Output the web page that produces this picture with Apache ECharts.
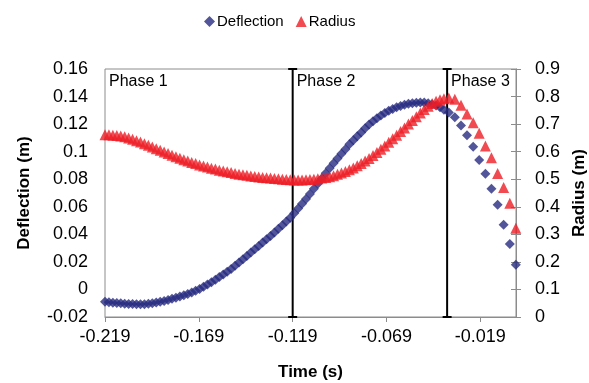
<!DOCTYPE html>
<html><head><meta charset="utf-8">
<script src="https://cdn.jsdelivr.net/npm/echarts@6/dist/echarts.min.js"></script>
<style>html,body{margin:0;padding:0;background:#fff}#c{width:589px;height:383px}</style>
</head><body><div id="c"></div>
<script>
// Time (s)
const time = [
-0.219,-0.2169,-0.2148,-0.2127,-0.2106,-0.2085,-0.2064,-0.2043,-0.2022,-0.2001,
-0.198,-0.1959,-0.1938,-0.1917,-0.1896,-0.1875,-0.1854,-0.1833,-0.1812,-0.1791,
-0.177,-0.1749,-0.1728,-0.1707,-0.1686,-0.1665,-0.1644,-0.1623,-0.1602,-0.1581,
-0.156,-0.1539,-0.1518,-0.1497,-0.1476,-0.1455,-0.1434,-0.1413,-0.1392,-0.1371,
-0.135,-0.1329,-0.1308,-0.1287,-0.1266,-0.1245,-0.1224,-0.1203,-0.1182,-0.1161,
-0.114,-0.1119,-0.1098,-0.1077,-0.1056,-0.1035,-0.1014,-0.0993,-0.0972,-0.0951,
-0.093,-0.0909,-0.0888,-0.0867,-0.0846,-0.0825,-0.0804,-0.0783,-0.0762,-0.0741,
-0.072,-0.0699,-0.0678,-0.0657,-0.0636,-0.0615,-0.0594,-0.0573,-0.0552,-0.0531,
-0.051,-0.0489,-0.0468,-0.0447,-0.0426,-0.0405,-0.0384,
-0.0358,-0.0326,-0.0293,-0.0261,-0.0228,-0.0196,-0.0163,-0.0131,-0.0098,-0.0066,-0.0033,-0.0001
];
// Deflection (m)
const deflection = [
-0.0090,-0.0093,-0.0096,-0.0099,-0.0101,-0.0103,-0.0105,-0.0106,-0.0107,-0.0108,
-0.0107,-0.0104,-0.0100,-0.0095,-0.0090,-0.0083,-0.0076,-0.0068,-0.0060,-0.0051,
-0.0042,-0.0033,-0.0022,-0.0009,0.0004,0.0019,0.0035,0.0052,0.0071,0.0090,
0.0109,0.0128,0.0149,0.0172,0.0195,0.0219,0.0243,0.0268,0.0292,0.0316,
0.0340,0.0364,0.0388,0.0414,0.0440,0.0466,0.0493,0.0520,0.0553,0.0587,
0.0622,0.0656,0.0692,0.0730,0.0768,0.0806,0.0843,0.0880,0.0916,0.0950,
0.0985,0.1018,0.1053,0.1083,0.1112,0.1140,0.1170,0.1197,0.1220,0.1242,
0.1262,0.1280,0.1297,0.1310,0.1322,0.1332,0.1340,0.1347,0.1352,0.1355,
0.1357,0.1356,0.1352,0.1345,0.1335,0.1322,0.1305,
0.1285,0.1250,0.1190,0.1120,0.1035,0.0940,0.0840,0.0730,0.0615,0.0470,0.0330,0.0180
];
// Radius (m)
const radius = [
0.661,0.661,0.660,0.659,0.657,0.654,0.650,0.645,0.640,0.635,
0.629,0.623,0.617,0.611,0.605,0.599,0.593,0.587,0.582,0.576,
0.571,0.566,0.561,0.557,0.552,0.548,0.544,0.540,0.537,0.533,
0.530,0.527,0.524,0.521,0.518,0.516,0.514,0.512,0.510,0.508,
0.506,0.505,0.504,0.503,0.502,0.500,0.499,0.498,0.497,0.497,
0.497,0.498,0.499,0.500,0.502,0.504,0.506,0.509,0.513,0.518,
0.523,0.528,0.534,0.541,0.549,0.557,0.566,0.575,0.586,0.597,
0.609,0.621,0.634,0.647,0.660,0.673,0.686,0.700,0.713,0.727,
0.740,0.753,0.765,0.775,0.783,0.788,0.792,
0.795,0.790,0.768,0.737,0.705,0.667,0.621,0.578,0.521,0.470,0.413,0.322
];
const xTickLabels = [-0.219, -0.169, -0.119, -0.069, -0.019];
const phaseStarts = [-0.219, -0.119, -0.0367];
const phaseNames = ['Phase 1', 'Phase 2', 'Phase 3'];
const phaseLines = [-0.119, -0.0367];
const deflRange = [-0.02, 0.16];

const FONT = 'Liberation Sans, Arial, sans-serif';
const AXIS = '#8c8c8c';
const chart = echarts.init(document.getElementById('c'), null, {renderer: 'canvas'});

const deflData = time.map((t, i) => [t, deflection[i]]);
const radData = time.map((t, i) => [t, radius[i]]);

const phaseSeries = phaseLines.map((v, i) => ({
  name: 'phase' + i, type: 'line', yAxisIndex: 0,
  data: [[v, deflRange[0]], [v, deflRange[1]]],
  symbol: 'rect', symbolSize: [9, 2], showSymbol: true,
  itemStyle: {color: '#000'},
  lineStyle: {color: '#000', width: 2},
  silent: true, z: 1
}));

const option = {
  animation: false,
  backgroundColor: '#fff',
  textStyle: {fontFamily: FONT},
  legend: {
    data: ['Deflection', 'Radius'],
    left: 199, top: 9,
    itemWidth: 11, itemHeight: 11, itemGap: 12,
    textStyle: {fontFamily: FONT, fontSize: 15, color: '#000', padding: [0, 0, 0, -3]}
  },
  grid: {left: 105, right: 73, top: 69, bottom: 66, show: true, borderColor: AXIS, borderWidth: 1,
    containLabel: false, outerBoundsMode: 'none'},
  xAxis: {
    type: 'value', min: -0.219, max: 0,
    name: 'Time (s)', nameLocation: 'middle', nameGap: 47,
    nameTextStyle: {fontFamily: FONT, fontSize: 17, fontWeight: 'bold', color: '#000'},
    axisLine: {show: true, onZero: false, lineStyle: {color: AXIS}},
    axisTick: {show: true, length: 5, lineStyle: {color: AXIS}, customValues: xTickLabels},
    axisLabel: {fontFamily: FONT, fontSize: 18, color: '#000', margin: 11, customValues: xTickLabels,
      formatter: v => String(+(+v).toFixed(3))},
    splitLine: {show: false}
  },
  yAxis: [{
    type: 'value', min: deflRange[0], max: deflRange[1], interval: 0.02, position: 'left',
    name: 'Deflection (m)', nameLocation: 'middle', nameGap: 72, nameRotate: 90,
    nameTextStyle: {fontFamily: FONT, fontSize: 17, fontWeight: 'bold', color: '#000'},
    axisLine: {show: true, lineStyle: {color: AXIS}},
    axisTick: {show: true, length: 5, lineStyle: {color: AXIS}},
    axisLabel: {fontFamily: FONT, fontSize: 18, color: '#000', margin: 17, formatter: v => String(+v.toFixed(2))},
    splitLine: {show: false}
  }, {
    type: 'value', min: 0, max: 0.9, interval: 0.1, position: 'right',
    name: 'Radius (m)', nameLocation: 'middle', nameGap: 50, nameRotate: 90,
    nameTextStyle: {fontFamily: FONT, fontSize: 17, fontWeight: 'bold', color: '#000'},
    axisLine: {show: true, lineStyle: {color: AXIS}},
    axisTick: {show: true, length: 5, lineStyle: {color: AXIS}},
    axisLabel: {fontFamily: FONT, fontSize: 18, color: '#000', margin: 19, formatter: v => String(+v.toFixed(1))},
    splitLine: {show: false}
  }],
  series: phaseSeries.concat([{
    name: 'Deflection', type: 'scatter', yAxisIndex: 0,
    symbol: 'diamond', symbolSize: 10,
    itemStyle: {color: '#272A80'},
    data: deflData,
    z: 2
  }, {
    name: 'Radius', type: 'scatter', yAxisIndex: 1,
    symbol: 'triangle', symbolSize: 11,
    itemStyle: {color: '#EE1D25'},
    data: radData,
    z: 3
  }])
};
chart.setOption(option);

const topY = chart.convertToPixel({yAxisIndex: 0}, deflRange[1]);
chart.setOption({
  graphic: phaseNames.map((n, i) => ({
    type: 'text', silent: true,
    x: chart.convertToPixel({xAxisIndex: 0}, phaseStarts[i]) + 4,
    y: topY + 5,
    style: {text: n, fontFamily: FONT, fontSize: 16, fill: '#000'},
    z: 10
  }))
});
</script>
</body></html>
